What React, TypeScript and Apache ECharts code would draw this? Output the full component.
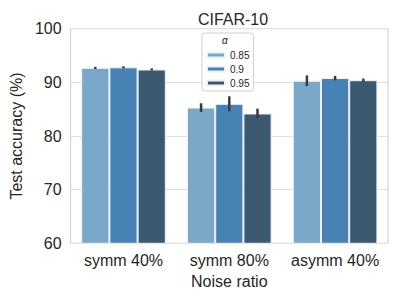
import React, { useEffect, useRef } from "react";
import * as echarts from "echarts";

const categories = ["symm 40%", "symm 80%", "asymm 40%"];
const seriesNames = ["0.85", "0.9", "0.95"];
const values = [
  [92.7, 85.3, 90.3],
  [92.8, 86.0, 90.8],
  [92.4, 84.2, 90.4],
];
const errors = [
  [0.2, 0.8, 1.0],
  [0.2, 1.4, 0.4],
  [0.2, 0.9, 0.3],
];
const colors = ["#7ba7c8", "#4682b4", "#3b5a72"];

const FONT = "Liberation Sans, Arial, sans-serif";

export default function App() {
  const ref = useRef<HTMLDivElement>(null);
  useEffect(() => {
    const chart = echarts.init(ref.current!, null, { renderer: "svg" });
    const n = seriesNames.length;
    const barSeries = seriesNames.map((name, s) => ({
      type: "bar",
      name,
      data: values[s],
      barGap: "0%",
      barCategoryGap: "20%",
      itemStyle: { color: colors[s], borderColor: "#eef3f8", borderWidth: 1 },
      z: 2,
    }));
    const errSeries = seriesNames.map((name, s) => ({
      type: "custom",
      name: name + "-err",
      z: 5,
      data: values[s].map((v, i) => [i, v, errors[s][i]]),
      renderItem: (params: any, api: any) => {
        const idx = api.value(0);
        const v = api.value(1);
        const e = api.value(2);
        const catW = api.size([1, 0])[0];
        const bw = (catW * 0.8) / n;
        const c = api.coord([idx, v]);
        const x = c[0] + (s - (n - 1) / 2) * bw;
        const top = api.coord([idx, v + e])[1];
        const bot = api.coord([idx, v - e])[1];
        return {
          type: "line",
          shape: { x1: x, y1: top, x2: x, y2: bot },
          style: { stroke: "#3a3a3a", lineWidth: 2.5 },
        };
      },
    }));
    chart.setOption({
      animation: false,
      title: {
        text: "CIFAR-10",
        left: 228,
        top: 5,
        textAlign: "center",
        textStyle: { fontFamily: FONT, fontSize: 16, fontWeight: "normal", color: "#262626", lineHeight: 18 },
      },
      legend: {
        data: seriesNames,
        orient: "vertical",
        left: 202,
        top: 33,
        itemWidth: 18,
        itemHeight: 5,
        itemGap: 2,
        padding: [16, 4, 2, 4],
        borderColor: "#d0d0d0",
        borderWidth: 1,
        borderRadius: 3,
        backgroundColor: "rgba(255,255,255,0.85)",
        icon: "rect",
        textStyle: { fontFamily: FONT, fontSize: 10, color: "#262626", lineHeight: 12 },
      },
      graphic: [
        {
          type: "text",
          left: 222,
          top: 35,
          z: 100,
          style: { text: "α", font: "italic 10px " + FONT, fill: "#262626" },
        },
      ],
      grid: {
        left: 68,
        right: 11,
        top: 28.7,
        bottom: 55.7,
        show: true,
        borderColor: "#cccccc",
        borderWidth: 1,
        backgroundColor: "#ffffff",
      },
      xAxis: {
        type: "category",
        data: categories,
        name: "Noise ratio",
        nameLocation: "middle",
        nameGap: 29,
        nameTextStyle: { fontFamily: FONT, fontSize: 16, color: "#262626" },
        axisLine: { show: false },
        axisTick: { show: false },
        axisLabel: { fontFamily: FONT, fontSize: 16, color: "#262626", margin: 9, interval: 0, hideOverlap: false },
      },
      yAxis: {
        type: "value",
        min: 60,
        max: 100,
        interval: 10,
        name: "Test accuracy (%)",
        nameLocation: "middle",
        nameGap: 41,
        nameTextStyle: { fontFamily: FONT, fontSize: 16, color: "#262626" },
        axisLine: { show: false },
        axisTick: { show: false },
        axisLabel: { fontFamily: FONT, fontSize: 16, color: "#262626", margin: 9 },
        splitLine: { lineStyle: { color: "#e0e0e0", width: 1 } },
      },
      series: [...barSeries, ...errSeries],
    });
    return () => chart.dispose();
  }, []);
  return <div ref={ref} style={{ width: 399, height: 299, position: "absolute", left: 0, top: 0 }} />;
}
